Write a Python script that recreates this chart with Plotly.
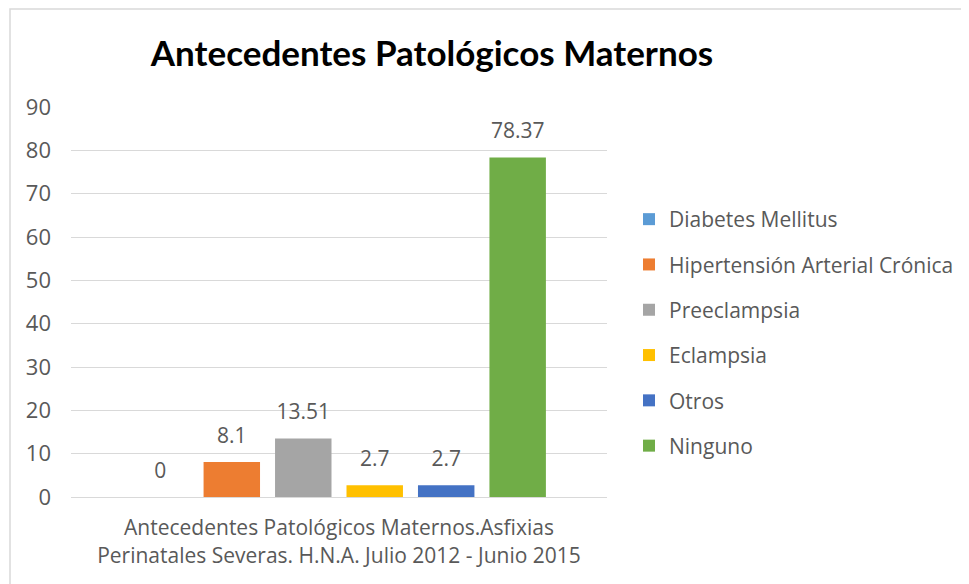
import plotly.graph_objects as go

# Data
category = ["Antecedentes Patológicos Maternos.Asfixias<br>Perinatales Severas. H.N.A. Julio 2012 - Junio 2015"]
series_names = [
    "Diabetes Mellitus",
    "Hipertensión Arterial Crónica",
    "Preeclampsia",
    "Eclampsia",
    "Otros",
    "Ninguno",
]
series_values = [0, 8.1, 13.51, 2.7, 2.7, 78.37]
series_labels = ["0", "8.1", "13.51", "2.7", "2.7", "78.37"]
series_colors = ["#5B9BD5", "#ED7D31", "#A5A5A5", "#FFC000", "#4472C4", "#70AD47"]
y_ticks = [0, 10, 20, 30, 40, 50, 60, 70, 80, 90]

W, H = 969, 584
L, R, T, B = 63, 599, 99, 489  # plot area in pixels (page has an 8px body margin)

text_color = "#595959"
body_font = "'Open Sans', sans-serif"
title_font = "Lato, sans-serif"

fig = go.Figure()
for i, (name, val, col) in enumerate(zip(series_names, series_values, series_colors)):
    fig.add_trace(go.Bar(
        x=category,
        y=[val],
        name=name,
        marker=dict(color=col, line=dict(width=0)),
        legendgroup=f"g{i}",
    ))

# data labels as grouped text-only scatter traces, sitting a bit above each bar
for i, (val, lab) in enumerate(zip(series_values, series_labels)):
    fig.add_trace(go.Scatter(
        x=category,
        y=[val],
        mode="markers+text",
        text=[lab],
        textposition="top center",
        textfont=dict(size=21, color=text_color, family=body_font),
        marker=dict(size=21, opacity=0),
        orientation="v",
        showlegend=False,
        hoverinfo="skip",
        cliponaxis=False,
    ))


def px_x(p):
    return (p - L) / (R - L)


def px_y(p):
    return (B - p) / (B - T)


fig.update_layout(
    width=W,
    height=H,
    barmode="group",
    bargap=0.2,
    bargroupgap=0.21,
    scattermode="group",
    scattergap=0.2,
    plot_bgcolor="white",
    paper_bgcolor="white",
    margin=dict(l=L, r=W - R, t=T, b=H - B, autoexpand=False),
    font=dict(family=body_font, color=text_color, size=18),
    title=dict(
        text="<b>Antecedentes Patológicos Maternos</b>",
        x=424 / W,
        xanchor="center",
        y=1 - 46 / H,
        yanchor="middle",
        font=dict(size=35, color="black", family=title_font),
    ),
    yaxis=dict(
        range=[0, 90],
        tickvals=y_ticks,
        showgrid=True,
        gridcolor="#D9D9D9",
        gridwidth=1,
        zeroline=False,
        showline=False,
        tickfont=dict(size=22, color=text_color),
        ticklabelstandoff=19,
    ),
    xaxis=dict(
        showline=True,
        linecolor="#D9D9D9",
        linewidth=1,
        tickfont=dict(size=21, color=text_color),
        ticks="",
        ticklabelstandoff=12,
    ),
    legend=dict(
        x=px_x(621),
        xanchor="left",
        y=px_y(191),
        yanchor="top",
        font=dict(size=21, color=text_color),
        tracegroupgap=15,
        itemwidth=30,
        bgcolor="rgba(0,0,0,0)",
    ),
    showlegend=True,
    shapes=[
        dict(
            type="rect", xref="paper", yref="paper",
            x0=px_x(2), x1=px_x(990), y0=px_y(600), y1=px_y(1),
            line=dict(color="#D9D9D9", width=1.5),
            layer="below",
        )
    ],
)

fig.write_html("out.html")
